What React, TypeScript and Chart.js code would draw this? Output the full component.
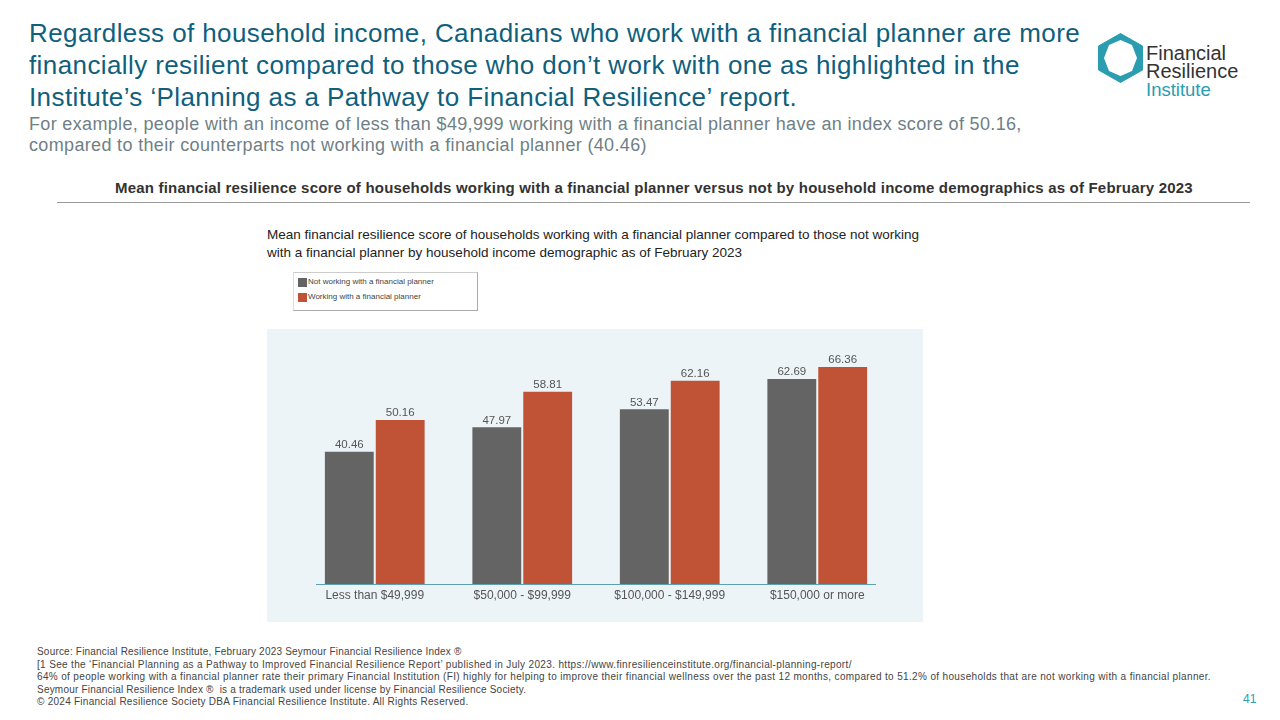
import { useEffect, useRef } from "react";
import { Chart, registerables } from "chart.js";
import type { Plugin } from "chart.js";

Chart.register(...registerables);

const categories = ["Less than $49,999", "$50,000 - $99,999", "$100,000 - $149,999", "$150,000 or more"];
const notWorking = [40.46, 47.97, 53.47, 62.69];
const working = [50.16, 58.81, 62.16, 66.36];
const seriesNames = ["Not working with a financial planner", "Working with a financial planner"];
const seriesColors = ["#646464", "#c05235"];

const headingLines = [
  "Regardless of household income, Canadians who work with a financial planner are more",
  "financially resilient compared to those who don\u2019t work with one as highlighted in the",
  "Institute\u2019s \u2018Planning as a Pathway to Financial Resilience\u2019 report.",
];
const subLines = [
  "For example, people with an income of less than $49,999 working with a financial planner have an index score of 50.16,",
  "compared to their counterparts not working with a financial planner (40.46)",
];
const footLines = [
  "Source: Financial Resilience Institute, February 2023 Seymour Financial Resilience Index \u00ae",
  "[1 See the \u2018Financial Planning as a Pathway to Improved Financial Resilience Report\u2019 published in July 2023. https://www.finresilienceinstitute.org/financial-planning-report/",
  "64% of people working with a financial planner rate their primary Financial Institution (FI) highly for helping to improve their financial wellness over the past 12 months, compared to 51.2% of households that are not working with a financial planner.",
  "Seymour Financial Resilience Index \u00ae  is a trademark used under license by Financial Resilience Society.",
  "\u00a9 2024 Financial Resilience Society DBA Financial Resilience Institute. All Rights Reserved.",
];
const footSpacing = [0.2, 0.34, 0.35, 0.21, 0.26];

const FONT = "'Liberation Sans', Arial, sans-serif";

// value labels above the bars and the short baseline under them
const barExtras: Plugin<"bar"> = {
  id: "barExtras",
  afterDatasetsDraw(chart) {
    const { ctx, chartArea } = chart;
    ctx.save();
    ctx.strokeStyle = "#5e9fb0";
    ctx.lineWidth = 1;
    ctx.beginPath();
    ctx.moveTo(chartArea.left + 15, chartArea.bottom + 0.5);
    ctx.lineTo(chartArea.right - 15, chartArea.bottom + 0.5);
    ctx.stroke();

    ctx.fillStyle = "#555555";
    ctx.font = `11.5px ${FONT}`;
    ctx.textAlign = "center";
    ctx.textBaseline = "bottom";
    chart.data.datasets.forEach((ds, i) => {
      chart.getDatasetMeta(i).data.forEach((bar, j) => {
        ctx.fillText(String(ds.data[j]), bar.x, bar.y - 1);
      });
    });
    ctx.restore();
  },
};

const Line = ({ x, y, size, color, text, spacing = 0, weight = 400 }: any) => (
  <div
    style={{
      position: "absolute",
      left: x,
      top: y,
      fontSize: size,
      lineHeight: 1,
      color,
      letterSpacing: spacing,
      fontWeight: weight,
      whiteSpace: "pre",
    }}
  >
    {text}
  </div>
);

const App = () => {
  const chartRef = useRef<HTMLCanvasElement | null>(null);

  useEffect(() => {
    if (!chartRef.current) return;
    const myChart = new Chart(chartRef.current, {
      type: "bar",
      data: {
        labels: categories,
        datasets: [
          { label: seriesNames[0], data: notWorking, backgroundColor: seriesColors[0] },
          { label: seriesNames[1], data: working, backgroundColor: seriesColors[1] },
        ],
      },
      options: {
        animation: false,
        responsive: false,
        layout: { padding: { left: 34, right: 32 } },
        plugins: { legend: { display: false }, tooltip: { enabled: false } },
        datasets: { bar: { categoryPercentage: 0.69, barPercentage: 0.96 } },
        scales: {
          x: {
            grid: { display: false },
            border: { display: false },
            afterFit: (axis) => {
              axis.height = 38;
            },
            ticks: { color: "#555555", font: { family: FONT, size: 12 }, maxRotation: 0, padding: -4 },
          },
          y: { display: false, min: 0, max: 78 },
        },
      },
      plugins: [barExtras],
    });

    return () => {
      myChart.destroy();
    };
  }, []);

  return (
    <div style={{ position: "fixed", inset: 0, background: "#fff", overflow: "hidden", fontFamily: FONT }}>
      {headingLines.map((t, i) => (
        <Line key={t} x={29} y={20 + i * 32} size={26} spacing={0.4} color="#0f5f7d" text={t} />
      ))}
      {subLines.map((t, i) => (
        <Line key={t} x={29} y={115 + i * 21} size={18} spacing={0.34} color="#6f7f86" text={t} />
      ))}
      <Line
        x={115}
        y={180}
        size={15}
        spacing={0.2}
        color="#333333"
        weight={700}
        text="Mean financial resilience score of households working with a financial planner versus not by household income demographics as of February 2023"
      />
      <div style={{ position: "absolute", left: 57, top: 202, width: 1193, height: 1, background: "#9a9a9a" }} />

      {/* logo */}
      <svg style={{ position: "absolute", left: 1095, top: 30 }} width="50" height="56" viewBox="0 0 50 56">
        <polygon points="25.5,3.5 47.5,16 47.5,40 25.5,52.5 3.5,40 3.5,16" fill="#2a9db0" stroke="#2a9db0" strokeLinejoin="round" />
        <polygon points="25.5,10 37,15 42,28 37,41 25.5,46 14,41 9,28 14,15" fill="#fff" />
      </svg>
      <Line x={1146} y={43} size={20} color="#333333" text="Financial" />
      <Line x={1146} y={61} size={20} color="#333333" text="Resilience" />
      <Line x={1146} y={81} size={18.5} color="#2a9db0" text="Institute" />

      {/* chart title and legend */}
      <Line
        x={267}
        y={228}
        size={13.5}
        color="#222222"
        text="Mean financial resilience score of households working with a financial planner compared to those not working"
      />
      <Line
        x={267}
        y={246}
        size={13.5}
        color="#222222"
        text="with a financial planner by household income demographic as of February 2023"
      />
      <div
        style={{
          position: "absolute",
          left: 293,
          top: 272,
          width: 183,
          height: 37,
          borderRight: "1px solid #aaa",
          borderBottom: "1px solid #aaa",
          borderTop: "1px solid #ccc",
          borderLeft: "1px solid #ddd",
        }}
      />
      {seriesNames.map((name, i) => (
        <div key={name}>
          <div
            style={{
              position: "absolute",
              left: 298,
              top: 278 + i * 15,
              width: 9,
              height: 9,
              background: seriesColors[i],
            }}
          />
          <Line x={308} y={278 + i * 15} size={8} color="#444444" text={name} />
        </div>
      ))}

      <canvas
        ref={chartRef}
        width={656}
        height={293}
        style={{ position: "absolute", left: 267, top: 329, background: "#ecf4f8" }}
      />

      {footLines.map((t, i) => (
        <Line key={t} x={37} y={647 + i * 12.5} size={10} spacing={footSpacing[i]} color="#444444" text={t} />
      ))}
      <Line x={1243} y={693} size={12} color="#2a9db0" text="41" />
    </div>
  );
};

export default App;
